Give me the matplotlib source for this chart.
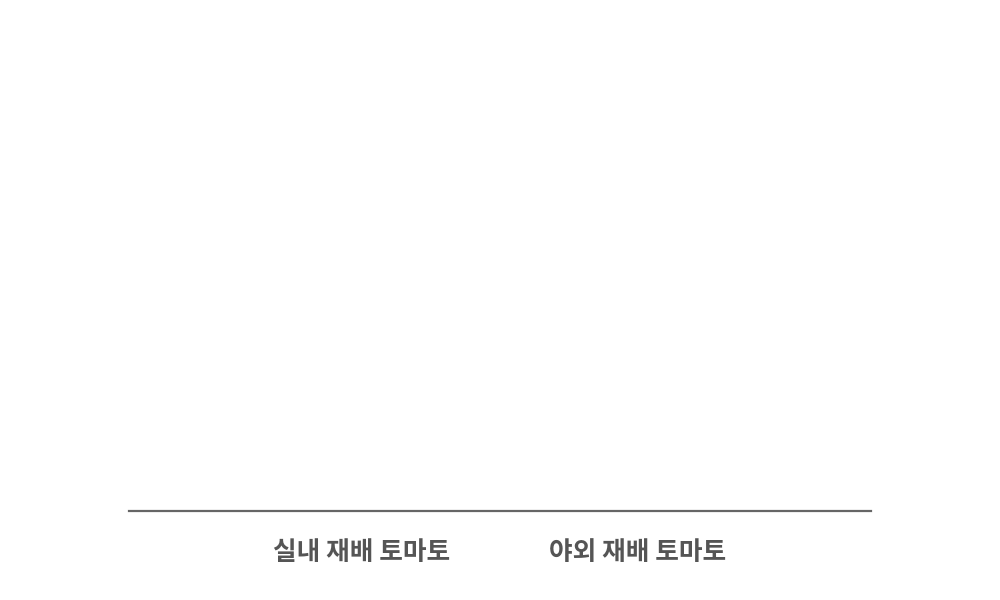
import matplotlib.pyplot as plt
import numpy as np

plt.rcParams['font.family'] = ['Noto Sans CJK KR', 'DejaVu Sans']

categories = ['실내 재배 토마토', '야외 재배 토마토']
values = [0, 0]

fig = plt.figure(figsize=(10, 6), dpi=100)
ax = fig.add_axes([0.129, 0.148, 0.742, 0.80])
x = np.arange(len(categories))
ax.bar(x, values, width=0.6, color='#e8604c')
ax.set_xlim(-0.844, 1.844)
ax.set_ylim(0, 1)

for s in ['top', 'right', 'left']:
    ax.spines[s].set_visible(False)
ax.spines['bottom'].set_color('#666666')
ax.spines['bottom'].set_linewidth(1.6)
ax.set_yticks([])
ax.set_xticks(x)
ax.set_xticklabels(categories, fontsize=18.5, fontweight='bold', color='#555555')
ax.tick_params(axis='x', length=0, pad=20)

fig.savefig('out.png', dpi=100)
